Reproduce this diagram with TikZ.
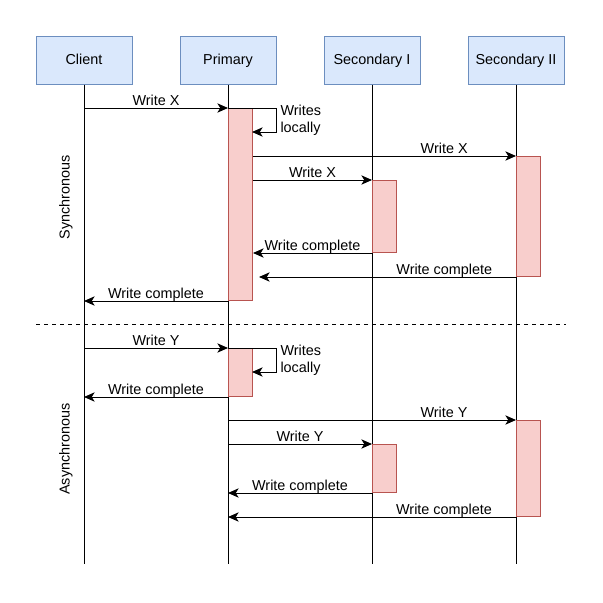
\documentclass[tikz,border=0pt]{standalone}
\usepackage{fontspec}
\setmainfont{Liberation Sans}
\usepackage{tikz}
\usetikzlibrary{arrows.meta, calc, positioning}

\definecolor{partfill}{HTML}{DAE8FC}
\definecolor{partline}{HTML}{6C8EBF}
\definecolor{actfill}{HTML}{F8CECC}
\definecolor{actline}{HTML}{B85450}

\begin{document}
\begin{tikzpicture}[x=0.75pt, y=-0.75pt, line width=0.75pt,
    font=\fontsize{10.8}{13}\selectfont,
    party/.style={draw=partline, fill=partfill, minimum width=72pt, minimum height=36pt, inner sep=0pt,
      text height=1.6ex, text depth=0.25ex},
    act/.style={draw=actline, fill=actfill, minimum width=18pt, inner sep=0pt, anchor=north west},
    msg/.style={-{Stealth[length=8pt, width=7pt, inset=2.2pt]}},
    lbl/.style={anchor=base, yshift=1.8pt, inner sep=0pt}]
      \useasboundingbox (0,0) rectangle (603,603);
      \coordinate (bottom) at (0,564);
      %
      \node[party] (client) at (84,60) {Client};
      \node[party] (primary) at (228,60) {Primary};
      \node[party] (secI) at (372,60) {Secondary I};
      \node[party] (secII) at (516,60) {Secondary II};
      %
      \foreach \p in {client, primary, secI, secII}
        \draw (\p.south) -- (\p.south |- bottom);
      %
      % synchronous part
      \node[act, minimum height=144pt] (pa1) at (228,108) {};
      \node[act, minimum height=90pt] (sb1) at (516,156) {};
      \node[act, minimum height=54pt] (sa1) at (372,180) {};
      %
      \draw[msg] (client |- pa1.north west) -- node[lbl] {Write X} (pa1.north west);
      \draw[msg] (pa1.north west) -- ++(48,0) -- ++(0,24) -- ++(-24,0);
      \node[anchor=west, align=left, inner sep=0pt] (selfX) at (280,120) {Writes\\locally};
      \draw[msg] (pa1.east |- sb1.north west) -- node[lbl, pos=0.727] {Write X} (sb1.north west);
      \draw[msg] (pa1.east |- sa1.north west) -- node[lbl] {Write X} (sa1.north west);
      \draw[msg] (sa1.south west) -- node[lbl] {Write complete} (pa1.east |- sa1.south west);
      \draw[msg] (sb1.south west) -- node[lbl, pos=0.279] {Write complete} ($(pa1.east |- sb1.south west)+(6,0)$);
      \draw[msg] (pa1.south west) -- node[lbl] {Write complete} (client |- pa1.south west);
      %
      \coordinate (sepL) at (36,324);
      \coordinate (sepR) at (566,324);
      \draw[dash pattern=on 3pt off 3pt] (sepL) -- (sepR);
      %
      % asynchronous part
      \node[act, minimum height=36pt] (pa2) at (228,348) {};
      \node[act, minimum height=72pt] (sb2) at (516,420) {};
      \node[act, minimum height=36pt] (sa2) at (372,444) {};
      %
      \draw[msg] (client |- pa2.north west) -- node[lbl] {Write Y} (pa2.north west);
      \draw[msg] (pa2.north west) -- ++(48,0) -- ++(0,24) -- ++(-24,0);
      \node[anchor=west, align=left, inner sep=0pt] (selfY) at (280,360) {Writes\\locally};
      \draw[msg] (pa2.south west) -- node[lbl] {Write complete} (client |- pa2.south west);
      \draw[msg] (primary |- sb2.north west) -- node[lbl, pos=0.75] {Write Y} (sb2.north west);
      \draw[msg] (primary |- sa2.north west) -- node[lbl] {Write Y} (sa2.north west);
      \draw[msg] (sa2.south west) -- node[lbl] {Write complete} (primary |- sa2.south west);
      \draw[msg] (sb2.south west) -- node[lbl, pos=0.25] {Write complete} (primary |- sb2.south west);
      %
      \node[rotate=90] (sync) at (66,197) {Synchronous};
      \node[rotate=90] (async) at (66,449) {Asynchronous};
\end{tikzpicture}
\end{document}
